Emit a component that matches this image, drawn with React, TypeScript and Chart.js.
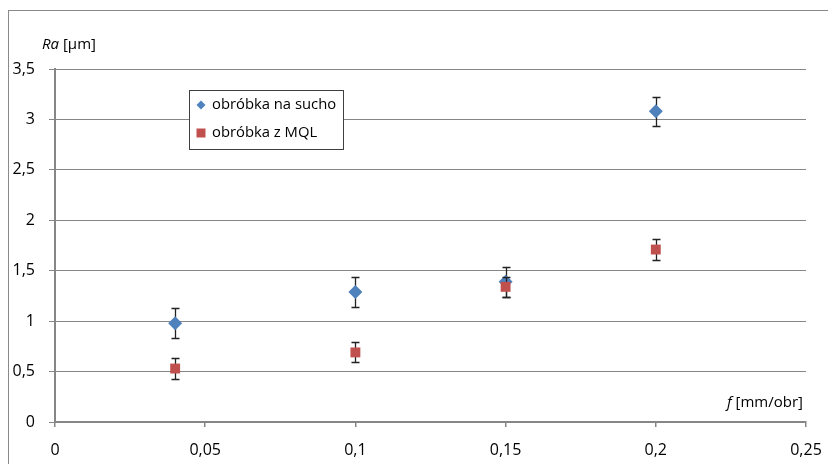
import React, { useEffect, useRef } from 'react';
import { Chart, registerables } from 'chart.js';

Chart.register(...registerables);

const feed = [0.04, 0.1, 0.15, 0.2];
const dryRa = [0.98, 1.29, 1.39, 3.08];
const dryErr = [0.15, 0.145, 0.15, 0.145];
const mqlRa = [0.53, 0.69, 1.34, 1.71];
const mqlErr = [0.1, 0.1, 0.1, 0.1];
const xTickLabels = ['0', '0,05', '0,1', '0,15', '0,2', '0,25'];
const yTickLabels = ['0', '0,5', '1', '1,5', '2', '2,5', '3', '3,5'];
const seriesNames = ['obróbka na sucho', 'obróbka z MQL'];
const yTitle = ['Ra', ' [µm]'];
const xTitle = ['f', ' [mm/obr]'];

const BLUE = '#4F81BD';
const RED = '#C0504D';
const GRID = '#868686';
const FONT = '"Open Sans", sans-serif';

const framePlugin = {
  id: 'frame',
  beforeDraw(chart: any) {
    const { ctx, width, height } = chart;
    ctx.save();
    ctx.fillStyle = '#fff';
    ctx.fillRect(0, 0, width, height);
    ctx.strokeStyle = '#8a8a8a';
    ctx.lineWidth = 1;
    ctx.strokeRect(8.5, 10.5, width + 50, height + 50);
    ctx.restore();
  },
};

const errorBarPlugin = {
  id: 'errorBars',
  beforeDatasetDraw(chart: any, args: any) {
    const ds = chart.data.datasets[args.index];
    const errs: number[] = ds.errors;
    if (!errs) return;
    const { ctx } = chart;
    const xs = chart.scales.x;
    const ys = chart.scales.y;
    ctx.save();
    ctx.strokeStyle = '#222';
    ctx.lineWidth = 1.3;
    ds.data.forEach((p: any, i: number) => {
      const cx = Math.round(xs.getPixelForValue(p.x)) + 0.5;
      const y1 = Math.round(ys.getPixelForValue(p.y + errs[i])) + 0.5;
      const y2 = Math.round(ys.getPixelForValue(p.y - errs[i])) + 0.5;
      ctx.beginPath();
      ctx.moveTo(cx, y1);
      ctx.lineTo(cx, y2);
      ctx.moveTo(cx - 4, y1);
      ctx.lineTo(cx + 4, y1);
      ctx.moveTo(cx - 4, y2);
      ctx.lineTo(cx + 4, y2);
      ctx.stroke();
    });
    ctx.restore();
  },
};

const annotationsPlugin = {
  id: 'annotations',
  afterDraw(chart: any) {
    const { ctx } = chart;
    const xs = chart.scales.x;
    const ys = chart.scales.y;
    ctx.save();
    // axis titles
    ctx.fillStyle = '#000';
    ctx.textBaseline = 'middle';
    ctx.textAlign = 'left';
    const drawTitle = (parts: string[], x: number, y: number) => {
      ctx.font = `italic 15px ${FONT}`;
      ctx.fillText(parts[0], x, y);
      const w = ctx.measureText(parts[0]).width;
      ctx.font = `15px ${FONT}`;
      ctx.fillText(parts[1], x + w, y);
    };
    drawTitle(yTitle, xs.left - 13, ys.top - 24);
    drawTitle(xTitle, xs.right - 79, ys.bottom - 19);

    // legend
    const lx = xs.left + 134;
    const ly = ys.top + 21;
    ctx.fillStyle = '#fff';
    ctx.fillRect(lx, ly, 154, 59);
    ctx.strokeStyle = '#404040';
    ctx.lineWidth = 1;
    ctx.strokeRect(lx + 0.5, ly + 0.5, 154, 59);
    const items = chart.data.datasets;
    items.forEach((ds: any, i: number) => {
      const cy = ly + 15 + i * 28;
      const mx = lx + 12;
      ctx.fillStyle = ds.backgroundColor;
      ctx.beginPath();
      if (ds.pointStyle === 'rectRot') {
        ctx.moveTo(mx, cy - 4.5);
        ctx.lineTo(mx + 4.5, cy);
        ctx.lineTo(mx, cy + 4.5);
        ctx.lineTo(mx - 4.5, cy);
        ctx.closePath();
      } else {
        ctx.rect(mx - 4.5, cy - 4.5, 9, 9);
      }
      ctx.fill();
      ctx.fillStyle = '#000';
      ctx.font = `14.8px ${FONT}`;
      ctx.textBaseline = 'middle';
      ctx.fillText(ds.label, lx + 23, cy);
    });
    ctx.restore();
  },
};

export default function App() {
  const ref = useRef<HTMLCanvasElement>(null);
  useEffect(() => {
    if (!ref.current) return;
    const chart = new Chart(ref.current, {
      type: 'scatter',
      data: {
        datasets: [
          {
            label: seriesNames[0],
            data: feed.map((x, i) => ({ x, y: dryRa[i] })),
            errors: dryErr,
            pointStyle: 'rectRot',
            pointRadius: 7,
            pointHoverRadius: 7,
            backgroundColor: BLUE,
            borderColor: BLUE,
            borderWidth: 0,
            order: 2,
          } as any,
          {
            label: seriesNames[1],
            data: feed.map((x, i) => ({ x, y: mqlRa[i] })),
            errors: mqlErr,
            pointStyle: 'rect',
            pointRadius: 7,
            pointHoverRadius: 7,
            backgroundColor: RED,
            borderColor: RED,
            borderWidth: 0,
            order: 1,
          } as any,
        ],
      },
      options: {
        animation: false,
        responsive: false,
        events: [],
        layout: { padding: { left: 0, top: 69, right: 22, bottom: 0 } },
        plugins: { legend: { display: false }, tooltip: { enabled: false } },
        scales: {
          x: {
            type: 'linear',
            min: 0,
            max: 0.25,
            afterFit: (s: any) => {
              s.height = 42;
              s.paddingLeft = 0;
              s.paddingRight = 0;
            },
            afterBuildTicks: (s: any) => {
              s.ticks = xTickLabels.map((_, i) => ({ value: i * 0.05 }));
            },
            ticks: {
              callback: (_v: any, i: number) => xTickLabels[i],
              color: '#000',
              font: { family: '"Open Sans", sans-serif', size: 16 },
              padding: 14,
              maxRotation: 0,
            },
            grid: { drawOnChartArea: false, drawTicks: true, tickLength: 5, color: GRID, lineWidth: 1.5 },
            border: { display: true, color: GRID, width: 2 },
          },
          y: {
            type: 'linear',
            min: 0,
            max: 3.5,
            afterFit: (s: any) => {
              s.width = 55;
              s.paddingTop = 0;
              s.paddingBottom = 0;
            },
            afterBuildTicks: (s: any) => {
              s.ticks = yTickLabels.map((_, i) => ({ value: i * 0.5 }));
            },
            ticks: {
              callback: (_v: any, i: number) => yTickLabels[i],
              color: '#000',
              font: { family: '"Open Sans", sans-serif', size: 16 },
              padding: 14,
            },
            grid: { drawTicks: true, tickLength: 6, color: GRID, lineWidth: 1 },
            border: { display: true, color: GRID, width: 2 },
          },
        },
      },
      plugins: [framePlugin, errorBarPlugin, annotationsPlugin],
    } as any);
    return () => chart.destroy();
  }, []);
  return (
    <div style={{ position: 'absolute', left: 0, top: 0, width: 828, height: 464 }}>
      <canvas ref={ref} width={828} height={464} />
    </div>
  );
}
